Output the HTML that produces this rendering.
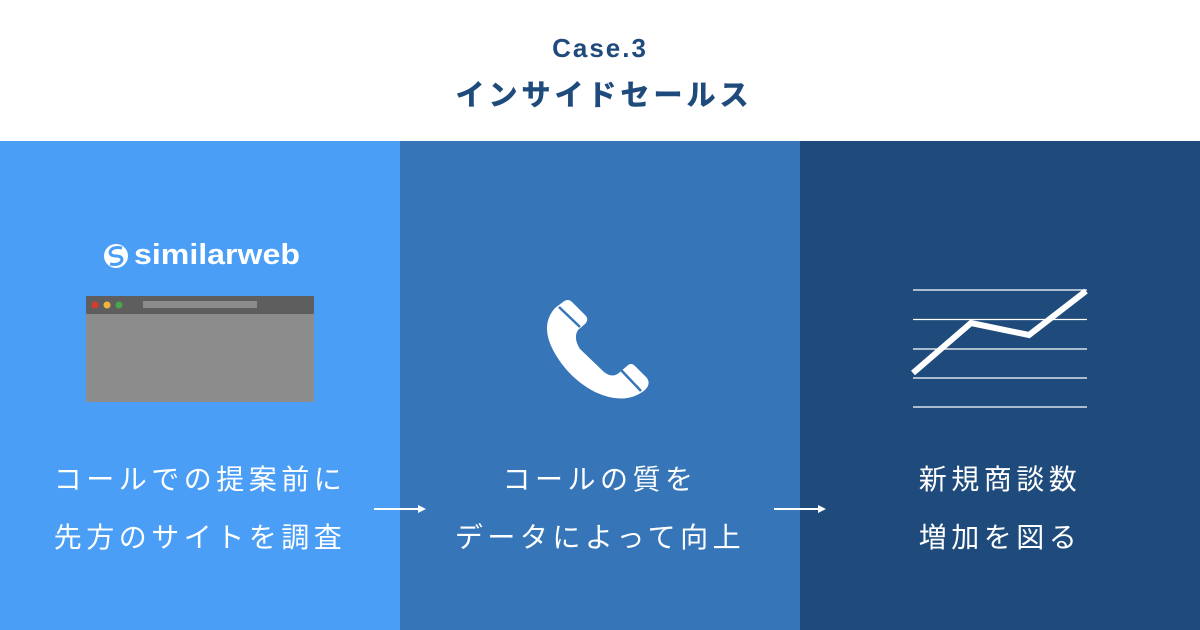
<!DOCTYPE html>
<html><head><meta charset="utf-8"><style>
body{margin:0;width:1200px;height:630px;overflow:hidden;background:#fff;font-family:"Liberation Sans","Noto Sans CJK JP",sans-serif;position:relative}
.t{position:absolute;left:0;width:1200px;text-align:center;color:#1f4b7c;font-weight:bold}
.p{position:absolute;top:141px;width:400px;height:489px}
.tx{position:absolute;left:0;width:400px;text-align:center;color:#fff;font-size:28px;letter-spacing:4.5px;line-height:58px;top:310px;font-family:"Liberation Sans","Noto Sans CJK JP",sans-serif}
svg{position:absolute;left:0;top:0}
</style></head><body>
<div class="t" style="top:32px;font-size:26px;letter-spacing:2px;line-height:32px">Case.3</div>
<div class="t" style="top:76px;font-size:29px;letter-spacing:4px;line-height:40px;padding-left:4px;-webkit-text-stroke:0.6px #1f4b7c">インサイドセールス</div>
<div class="p" style="left:0;background:#4a9ef5"><div class="tx">コールでの提案前に<br>先方のサイトを調査</div></div>
<div class="p" style="left:400px;background:#3575b8"><div class="tx">コールの質を<br>データによって向上</div></div>
<div class="p" style="left:800px;background:#1f4b7c"><div class="tx">新規商談数<br>増加を図る</div></div>
<svg width="1200" height="630">
<circle cx="116" cy="256" r="12" fill="#fff"/>
<path d="M122 248 Q112 246 110 252 Q110 256 116 256 Q122 256 122 260 Q120 266 110 264" stroke="#4a9ef5" stroke-width="3" fill="none"/>
<text x="134" y="264" fill="#fff" font-family="Liberation Sans,sans-serif" font-weight="bold" font-size="29" textLength="166" lengthAdjust="spacingAndGlyphs">similarweb</text>
<rect x="86" y="296" width="228" height="106" fill="#8c8c8c"/>
<rect x="86" y="296" width="228" height="18" fill="#5e5e5e"/>
<circle cx="95" cy="305" r="3.5" fill="#d63b2f"/><circle cx="107" cy="305" r="3.5" fill="#f0b43a"/><circle cx="119" cy="305" r="3.5" fill="#4aa64a"/>
<rect x="143" y="301" width="114" height="7" fill="#8c8c8c"/>
<path d="M563,302 Q568,298 572,302 L586,316 Q589,320 585,324 L578,330 Q573,338 580,349 L604,372 Q613,379 620,372 L627,366 Q631,362 635,366 L647,378 Q651,384 645,390 Q625,406 595,392 Q568,378 553,350 Q540,325 555,308 Z" fill="#fff"/>
<line x1="559" y1="307" x2="580" y2="327" stroke="#3575b8" stroke-width="2.5"/>
<line x1="621" y1="370" x2="641" y2="391" stroke="#3575b8" stroke-width="2.5"/>
<line x1="374" y1="509" x2="420" y2="509" stroke="#fff" stroke-width="2"/><path d="M418 505 L426 509 L418 513Z" fill="#fff"/>
<line x1="774" y1="509" x2="820" y2="509" stroke="#fff" stroke-width="2"/><path d="M818 505 L826 509 L818 513Z" fill="#fff"/>
<g stroke="#fff" stroke-width="1.3">
<line x1="913" y1="290" x2="1087" y2="290"/><line x1="913" y1="319.5" x2="1087" y2="319.5"/><line x1="913" y1="349" x2="1087" y2="349"/><line x1="913" y1="378" x2="1087" y2="378"/><line x1="913" y1="407" x2="1087" y2="407"/>
</g>
<polyline points="913,373 971,323 1029,335 1086,291" fill="none" stroke="#fff" stroke-width="6"/>
</svg>
</body></html>
